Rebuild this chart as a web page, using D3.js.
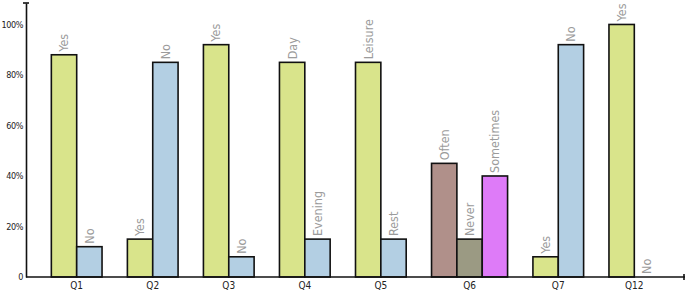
<!DOCTYPE html>
<meta charset="utf-8">
<style>
body { margin: 0; background: #fff; }
.bar { stroke: #111; stroke-width: 1.6; }
.barLabel { fill: #9b9b9b; font-family: "DejaVu Sans Condensed", "DejaVu Sans", sans-serif; font-size: 12.5px; }
.axis text { font-family: "DejaVu Sans Condensed", "DejaVu Sans", sans-serif; fill: #222; }
.axis path, .axis line, .cap { stroke: #111; stroke-width: 1.6; }
</style>
<body>
<div id="chart"></div>
<script src="https://d3js.org/d3.v7.min.js"></script>
<script>

var questions = ['Q1','Q2','Q3','Q4','Q5','Q6','Q7','Q12'];
var answers = [['Yes','No'],['Yes','No'],['Yes','No'],['Day','Evening'],['Leisure','Rest'],
               ['Often','Never','Sometimes'],['Yes','No'],['Yes','No']];
var values = [[0.88,0.12],[0.15,0.85],[0.92,0.08],[0.85,0.15],[0.85,0.15],
              [0.45,0.15,0.40],[0.08,0.92],[1.00,0]];
var colors = [['#d9e48b','#b3cfe3'],['#d9e48b','#b3cfe3'],['#d9e48b','#b3cfe3'],['#d9e48b','#b3cfe3'],
              ['#d9e48b','#b3cfe3'],['#b0908a','#9b9a83','#de7bf8'],['#d9e48b','#b3cfe3'],['#d9e48b','#b3cfe3']];
var yTicks = [0, 0.2, 0.4, 0.6, 0.8, 1.0];

var width = 685, height = 290;
var svg = d3.select("#chart").append("svg").attr("width", width).attr("height", height);

// one slot per bar, plus an empty slot before each group and one at the end
var slots = [], bars = [];
questions.forEach(function(q, i){
  slots.push('gap' + i);
  answers[i].forEach(function(a, j){
    var id = q + '_' + j;
    slots.push(id);
    bars.push({q: q, gi: i, id: id, label: a, value: values[i][j], color: colors[i][j]});
  });
});
slots.push('gapEnd');

var x = d3.scaleBand().domain(slots).range([26, 685]).padding(0);
var y = d3.scaleLinear().domain([0, 1.085]).range([277, 3]);

svg.selectAll(".bar").data(bars.filter(d => d.value > 0)).enter().append("rect")
   .attr("class","bar")
   .attr("x", d => x(d.id))
   .attr("y", d => y(d.value))
   .attr("width", x.bandwidth())
   .attr("height", d => y(0) - y(d.value))
   .attr("fill", d => d.color);

svg.selectAll(".barLabel").data(bars).enter().append("text")
   .attr("class","barLabel")
   .attr("transform", d => "translate(" + (x(d.id) + x.bandwidth()/2) + "," + (y(d.value) - 3) + ") rotate(-90)")
   .attr("dy", "0.35em")
   .text(d => d.label);

// y axis
var yAxis = svg.append("g").attr("class","axis").attr("transform","translate(26,0)")
   .call(d3.axisLeft(y).tickValues(yTicks).tickSize(0).tickPadding(3)
         .tickFormat(d => d === 0 ? "0" : d3.format(".0%")(d)));
yAxis.selectAll("text").style("font-size","9px").style("letter-spacing","-0.4px")
   .attr("x", -3).attr("text-anchor","end");

// x axis: labels at group centres
var xAxis = svg.append("g").attr("class","axis");
xAxis.append("line").attr("x1", 26).attr("x2", 685).attr("y1", y(0)).attr("y2", y(0));
questions.forEach(function(q, i){
  var ids = answers[i].map((a, j) => q + '_' + j);
  var cx = (x(ids[0]) + x(ids[ids.length-1]) + x.bandwidth()) / 2;
  xAxis.append("text").attr("x", cx).attr("y", 289).attr("text-anchor","middle")
     .style("font-size","10px").text(q);
});

// end caps
svg.append("line").attr("class","cap").attr("x1", 23).attr("x2", 29).attr("y1", y.range()[1]).attr("y2", y.range()[1]);
svg.append("line").attr("class","cap").attr("x1", 684).attr("x2", 684).attr("y1", y(0) - 3).attr("y2", y(0) + 3);

</script>
</body>
</html>
